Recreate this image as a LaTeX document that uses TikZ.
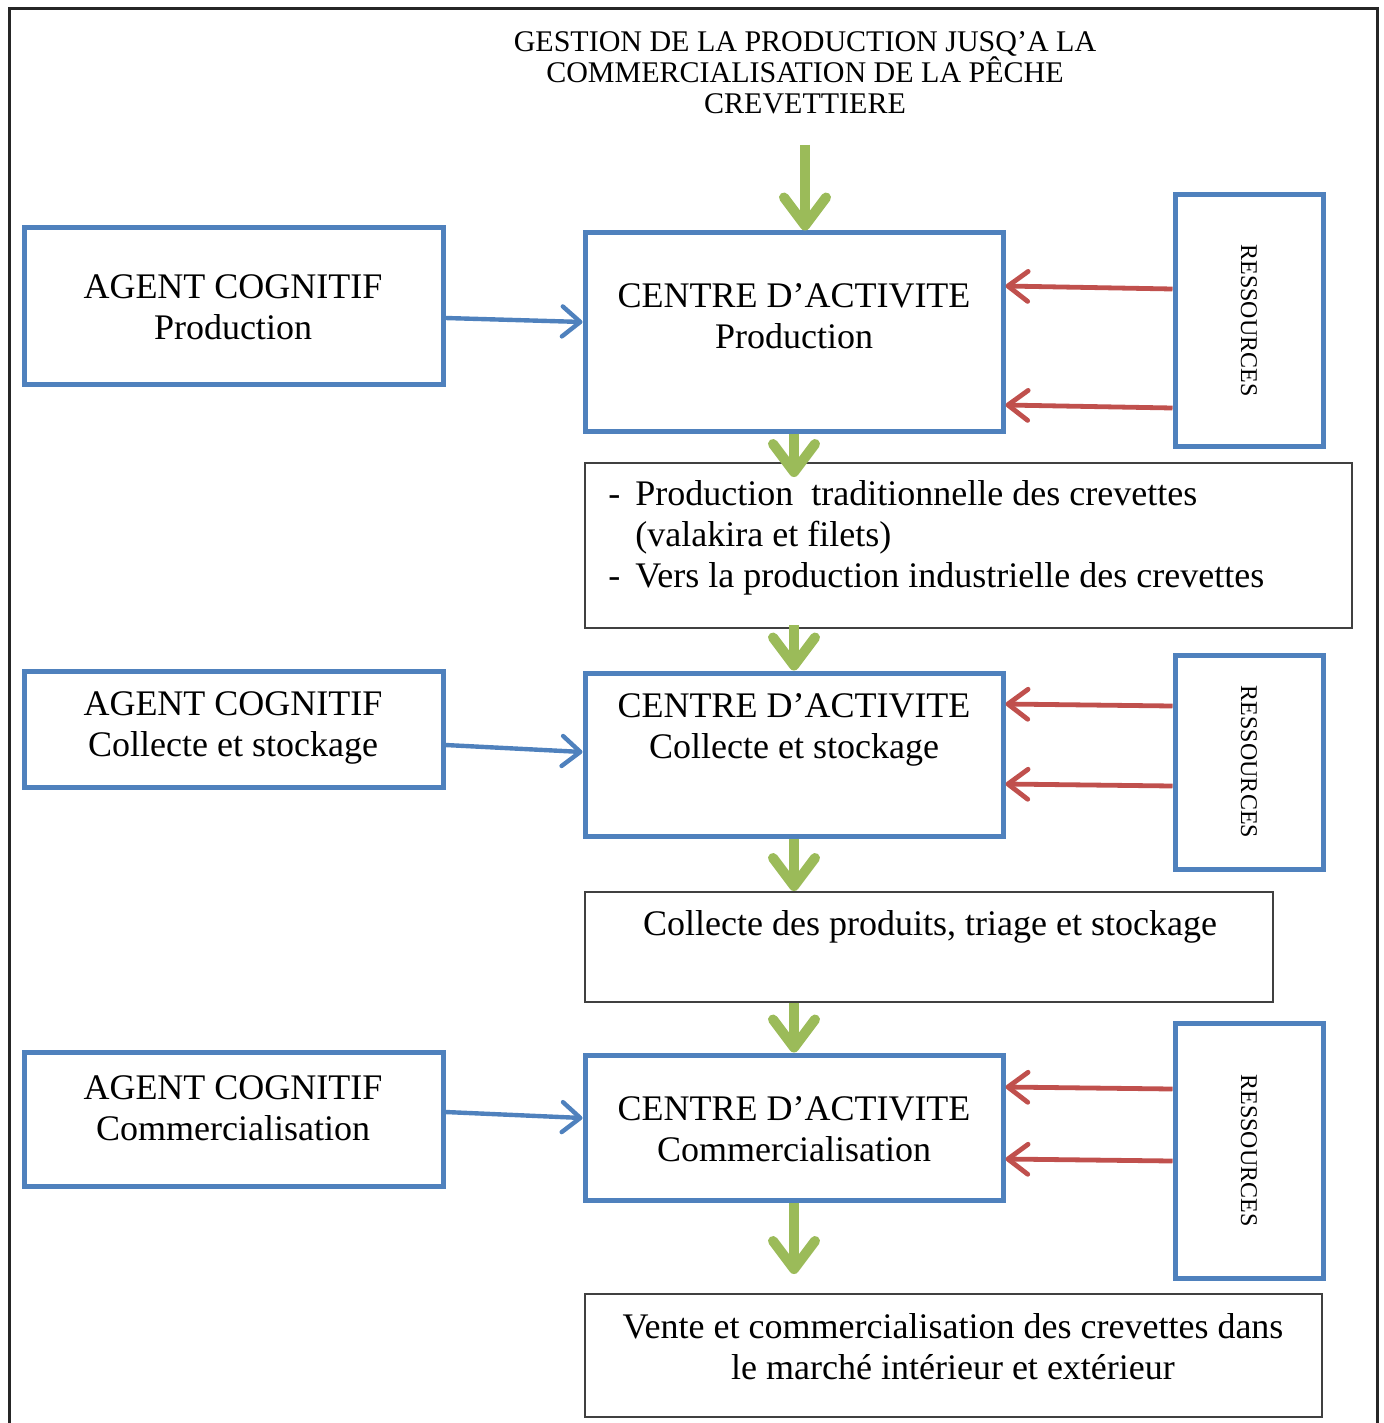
\documentclass[tikz,border=0pt]{standalone}
\usepackage{fontspec}
\setmainfont{Liberation Serif}
\usetikzlibrary{arrows.meta,fit,calc}
\definecolor{oblue}{HTML}{4F81BD}
\definecolor{ogreen}{HTML}{9BBB59}
\definecolor{ored}{HTML}{C0504D}
\begin{document}
\begin{tikzpicture}[x=0.5pt,y=-0.5pt,
  bbox/.style={draw=oblue, line width=2.5pt, inner sep=0pt},
  kbox/.style={draw=black!75, line width=1pt, inner sep=0pt},
  lbl/.style={align=center, font=\fontsize{18}{20.5}\selectfont, inner sep=0pt},
  res/.style={rotate=-90, font=\fontsize{12}{12}\selectfont, inner sep=0pt},
  garrow/.style={draw=ogreen, line width=5pt, -{Straight Barb[round,length=14pt,width=21pt]}},
  rarrow/.style={draw=ored, line width=2.4pt, -{Straight Barb[round,length=10pt,width=15pt]}},
  barrow/.style={draw=oblue, line width=2.2pt, -{Straight Barb[round,length=9pt,width=15pt]}}
]
\useasboundingbox (0,0) rectangle (1383,1423);
\draw[line width=1.5pt, black!85] (9,1430) -- (9,9) -- (1377,9) -- (1377,1430);

% title
\node[align=center, font=\fontsize{15}{15.5}\selectfont, inner sep=0pt] (title) at (805,73)
  {GESTION DE LA PRODUCTION JUSQ'A LA\\COMMERCIALISATION DE LA PÊCHE\\CREVETTIERE};
\coordinate (g0) at (805,145);

% row 1
\node[bbox, fit={(24,228) (443,384)}] (a1) {};
\node[lbl] (a1t) at (233,307) {AGENT COGNITIF\\Production};
\node[bbox, fit={(585,233) (1003,431)}] (c1) {};
\node[lbl] (c1t) at (794,316) {CENTRE D'ACTIVITE\\Production};
\node[bbox, fit={(1175,195) (1323,446)}] (r1) {};
\node[res] (r1t) at (r1) {RESSOURCES};
\node[kbox, fit={(585,463) (1352,628)}] (t1) {};
\node[lbl, anchor=west] (t1t) at (608,538) {\begin{tabular}{@{}l@{\ \,}l@{}}- & Production\ \ traditionnelle des crevettes\\ & (valakira et filets)\\- & Vers la production industrielle des crevettes\end{tabular}};

% row 2
\node[bbox, fit={(24,671) (443,787)}] (a2) {};
\node[lbl] (a2t) at (233,728) {AGENT COGNITIF\\Collecte et stockage};
\node[bbox, fit={(585,673) (1003,836)}] (c2) {};
\node[lbl] (c2t) at (794,730) {CENTRE D'ACTIVITE\\Collecte et stockage};
\node[bbox, fit={(1175,655) (1323,869)}] (r2) {};
\node[res] (r2t) at (r2) {RESSOURCES};
\node[kbox, fit={(585,892) (1273,1002)}] (t2) {};
\node[lbl] (t2t) at (930,927) {Collecte des produits, triage et stockage};

% row 3
\node[bbox, fit={(24,1052) (443,1186)}] (a3) {};
\node[lbl] (a3t) at (233,1108) {AGENT COGNITIF\\Commercialisation};
\node[bbox, fit={(585,1055) (1003,1200)}] (c3) {};
\node[lbl] (c3t) at (794,1129) {CENTRE D'ACTIVITE\\Commercialisation};
\node[bbox, fit={(1175,1023) (1323,1278)}] (r3) {};
\node[res] (r3t) at (r3) {RESSOURCES};
\node[kbox, fit={(585,1294) (1322,1417)}] (t3) {};
\node[lbl] (t3t) at (953,1347) {Vente et commercialisation des crevettes dans\\le marché intérieur et extérieur};

% green flow arrows
\draw[garrow] (g0) -- (g0 |- c1.north);
\draw[garrow, shorten >=-7.5pt] (c1.south) -- (c1.south |- t1.north);
\draw[garrow, shorten <=-2pt] (c1.south |- t1.south) -- (c2.north);
\draw[garrow] (c2.south) -- (c2.south |- t2.north);
\draw[garrow] (c3.north |- t2.south) -- (c3.north);
\draw[garrow, shorten >=9.5pt] (c3.south) -- (c3.south |- t3.north);

% red resource arrows
\draw[rarrow] (r1.west |- 0,289) -- (c1.east |- 0,286);
\draw[rarrow] (r1.west |- 0,408) -- (c1.east |- 0,405);
\draw[rarrow] (r2.west |- 0,706) -- (c2.east |- 0,704);
\draw[rarrow] (r2.west |- 0,786) -- (c2.east |- 0,784);
\draw[rarrow] (r3.west |- 0,1089) -- (c3.east |- 0,1087);
\draw[rarrow] (r3.west |- 0,1161) -- (c3.east |- 0,1159);

% blue agent arrows
\draw[barrow] (a1.east |- 0,318) -- (c1.west |- 0,322);
\draw[barrow] (a2.east |- 0,745) -- (c2.west |- 0,752);
\draw[barrow] (a3.east |- 0,1112) -- (c3.west |- 0,1118);
\end{tikzpicture}
\end{document}
